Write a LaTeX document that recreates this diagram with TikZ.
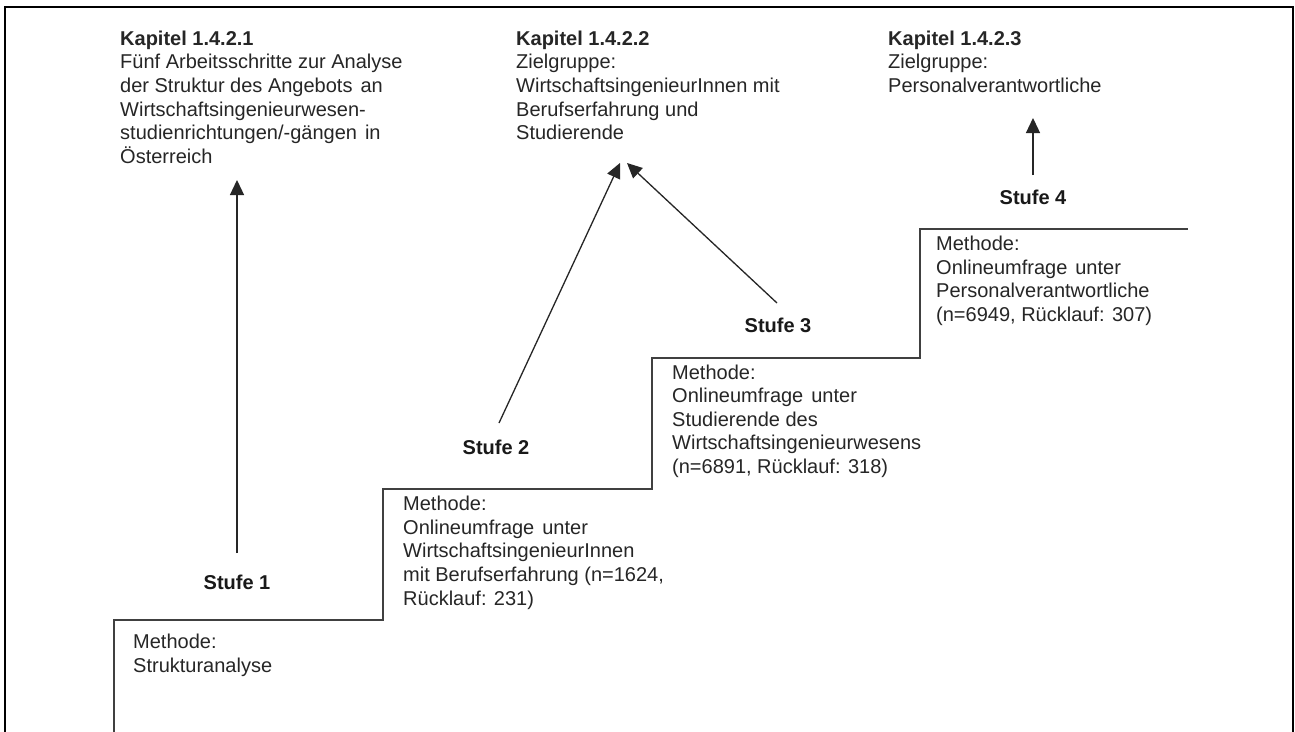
\documentclass[tikz,border=0pt]{standalone}
\usepackage{fontspec}
\setmainfont{Liberation Sans}
\usetikzlibrary{arrows.meta}
\begin{document}
\begin{tikzpicture}[x=1pt,y=-1pt,
  txt/.style={anchor=north west, inner sep=0pt, align=left, font=\fontsize{20}{23.6}\selectfont, text=black!85},
  stlabel/.style={anchor=center, inner sep=0pt, font=\fontsize{20}{24}\selectfont\bfseries, text=black!90},
  stair/.style={draw=black!75, line width=1.6pt},
  arr/.style={draw=black!85, line width=1.3pt, -{Triangle[length=15pt,width=14pt]}},
  frame/.style={draw=black, line width=2.6pt}]
\useasboundingbox (0,0) rectangle (1295,731);
\fill[white] (0,0) rectangle (1295,731);
% outer frame
\draw[frame] (5,745) -- (5,7) -- (1293,7) -- (1293,745);
% staircase
\draw[stair] (114,740) -- (114,620) -- (383,620) -- (383,489) -- (652,489) -- (652,358) -- (920,358) -- (920,229) -- (1188,229);
% chapter texts
\node[txt] (k1) at (120,30.7) {\textbf{Kapitel 1.4.2.1}\\Fünf Arbeitsschritte zur Analyse\\der Struktur des Angebots\hspace{8pt}an\\Wirtschaftsingenieurwesen-\\studienrichtungen/-gängen\hspace{8pt}in\\Österreich};
\node[txt] (k2) at (516,30.7) {\textbf{Kapitel 1.4.2.2}\\Zielgruppe:\\WirtschaftsingenieurInnen mit\\Berufserfahrung und\\Studierende};
\node[txt] (k3) at (888,30.7) {\textbf{Kapitel 1.4.2.3}\\Zielgruppe:\\Personalverantwortliche};
% method texts
\node[txt] (m1) at (133,634) {Methode:\\Strukturanalyse};
\node[txt] (m2) at (403,496) {Methode:\\Onlineumfrage\hspace{8pt}unter\\WirtschaftsingenieurInnen\\mit Berufserfahrung (n=1624,\\Rücklauf: 231)};
\node[txt] (m3) at (672,364.5) {Methode:\\Onlineumfrage\hspace{8pt}unter\\Studierende des\\Wirtschaftsingenieurwesens\\(n=6891, Rücklauf: 318)};
\node[txt] (m4) at (936,236) {Methode:\\Onlineumfrage\hspace{8pt}unter\\Personalverantwortliche\\(n=6949, Rücklauf: 307)};
% step labels
\node[stlabel] (s1) at (237,582) {Stufe 1};
\node[stlabel] (s2) at (496,447) {Stufe 2};
\node[stlabel] (s3) at (778,325) {Stufe 3};
\node[stlabel] (s4) at (1033,197) {Stufe 4};
% arrow ends
\coordinate (a1s) at (237,553);
\coordinate (a1t) at (237,180);
\coordinate (a2s) at (499,423);
\coordinate (a2t) at (620,163);
\coordinate (a3s) at (777,303);
\coordinate (a3t) at (627,163);
\coordinate (a4s) at (1033,175);
\coordinate (a4t) at (1033,118);
\draw[arr] (a1s) -- (a1t);
\draw[arr] (a2s) -- (a2t);
\draw[arr] (a3s) -- (a3t);
\draw[arr] (a4s) -- (a4t);
\end{tikzpicture}
\end{document}
